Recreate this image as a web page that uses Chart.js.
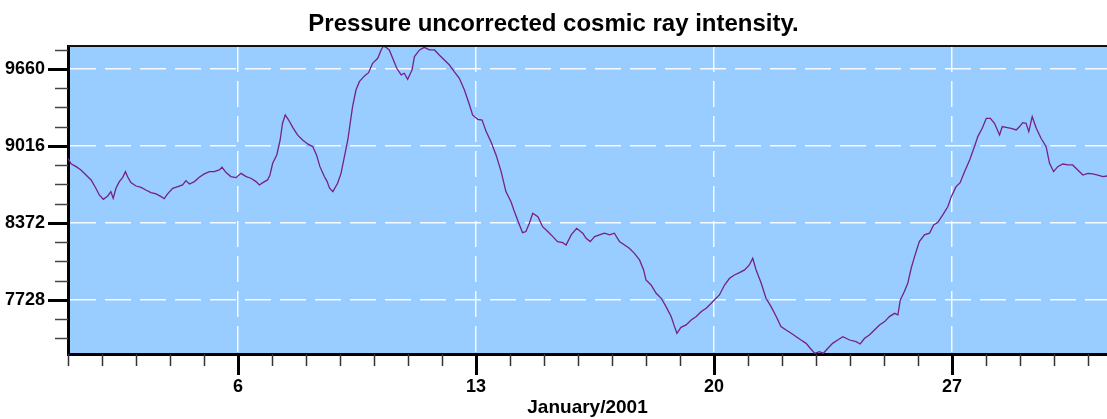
<!DOCTYPE html>
<html>
<head>
<meta charset="utf-8">
<script src="https://cdn.jsdelivr.net/npm/chart.js@4.4.1/dist/chart.umd.min.js"></script>
<style>
  body { margin: 0; background: #fff; }
  #wrap { width: 1107px; height: 419px; }
</style>
</head>
<body>
<div id="wrap"><canvas id="cosmicChart" width="1107" height="419"></canvas></div>
<script>
// day of January 2001 (fractional) and counts
const days = [
    1.00, 1.09, 1.24, 1.38, 1.53, 1.68, 1.82, 1.92, 2.04, 2.17, 2.26, 2.33, 2.41, 2.51, 2.61, 2.69, 2.75, 2.85,
    3.00, 3.15, 3.29, 3.44, 3.59, 3.74, 3.83, 3.93, 4.08, 4.23, 4.37, 4.47, 4.57, 4.72, 4.86, 5.01, 5.16, 5.30,
    5.45, 5.53, 5.65, 5.79, 5.94, 6.09, 6.24, 6.38, 6.53, 6.63, 6.73, 6.87, 6.94, 7.02, 7.14, 7.24, 7.31, 7.39,
    7.49, 7.61, 7.75, 7.90, 8.05, 8.20, 8.31, 8.41, 8.54, 8.62, 8.69, 8.79, 8.93, 9.03, 9.13, 9.23, 9.30, 9.37,
    9.47, 9.57, 9.72, 9.84, 9.96, 10.11, 10.21, 10.28, 10.35, 10.45, 10.55, 10.67, 10.80, 10.89, 10.99, 11.12,
    11.19, 11.34, 11.48, 11.63, 11.78, 11.92, 12.07, 12.22, 12.36, 12.51, 12.66, 12.81, 12.90, 13.05, 13.18,
    13.30, 13.44, 13.59, 13.74, 13.88, 14.03, 14.13, 14.26, 14.37, 14.47, 14.57, 14.67, 14.82, 14.96, 15.11,
    15.26, 15.40, 15.55, 15.65, 15.80, 15.96, 16.14, 16.24, 16.36, 16.49, 16.63, 16.78, 16.93, 17.07, 17.22,
    17.37, 17.51, 17.66, 17.81, 17.93, 18.00, 18.15, 18.30, 18.45, 18.59, 18.74, 18.84, 18.91, 19.03, 19.18,
    19.33, 19.48, 19.62, 19.77, 19.92, 20.01, 20.16, 20.31, 20.46, 20.60, 20.75, 20.90, 21.04, 21.14, 21.24,
    21.39, 21.53, 21.68, 21.83, 21.97, 22.12, 22.27, 22.42, 22.56, 22.71, 22.83, 22.96, 23.10, 23.22, 23.35,
    23.49, 23.64, 23.79, 23.99, 24.18, 24.30, 24.43, 24.57, 24.72, 24.87, 25.02, 25.16, 25.31, 25.41, 25.48,
    25.60, 25.70, 25.80, 25.90, 26.04, 26.19, 26.34, 26.46, 26.58, 26.73, 26.88, 26.98, 27.12, 27.24, 27.37,
    27.52, 27.66, 27.76, 27.89, 28.01, 28.13, 28.25, 28.40, 28.48, 28.59, 28.74, 28.89, 28.99, 29.08, 29.18,
    29.26, 29.36, 29.48, 29.62, 29.77, 29.87, 29.99, 30.11, 30.26, 30.41, 30.55, 30.70, 30.85, 31.00, 31.14,
    31.29, 31.44, 31.56
];
const intensity = [
    8913, 8866, 8843, 8815, 8773, 8732, 8662, 8606, 8570, 8598, 8634, 8578, 8662, 8718, 8754, 8801, 8760, 8709,
    8681, 8670, 8648, 8626, 8615, 8592, 8575, 8615, 8662, 8676, 8690, 8726, 8698, 8718, 8754, 8782, 8801, 8801,
    8815, 8838, 8793, 8760, 8751, 8787, 8760, 8746, 8718, 8690, 8709, 8732, 8773, 8871, 8941, 9066, 9206, 9275,
    9233, 9172, 9108, 9066, 9033, 9010, 8941, 8843, 8760, 8720, 8665, 8634, 8704, 8787, 8927, 9066, 9206, 9345,
    9484, 9554, 9602, 9629, 9707, 9749, 9819, 9852, 9841, 9819, 9749, 9666, 9610, 9624, 9574, 9652,
    9763, 9819, 9841, 9819, 9819, 9777, 9735, 9693, 9638, 9582, 9484, 9359, 9275, 9239, 9233,
    9136, 9052, 8941, 8801, 8634, 8550, 8467, 8369, 8291, 8300, 8369, 8453, 8425, 8341, 8300,
    8258, 8216, 8207, 8188, 8272, 8327, 8286, 8244, 8216, 8258, 8272, 8286, 8272, 8286, 8216,
    8188, 8160, 8118, 8063, 7979, 7895, 7853, 7784, 7742, 7672, 7589, 7505, 7449, 7499, 7519,
    7561, 7589, 7630, 7658, 7700, 7728, 7770, 7853, 7909, 7937, 7957, 7979, 8021, 8076, 7979,
    7867, 7742, 7672, 7589, 7505, 7477, 7449, 7421, 7393, 7365, 7324, 7282, 7296, 7282, 7324,
    7365, 7393, 7421, 7393, 7379, 7360, 7407, 7435, 7477, 7519, 7547, 7589, 7616, 7603, 7728,
    7798, 7867, 7993, 8090, 8216, 8272, 8286, 8355, 8375, 8439, 8509, 8592, 8676, 8709, 8801,
    8899, 9010, 9094, 9164, 9247, 9247, 9206, 9108, 9178, 9172, 9164, 9150, 9178, 9211, 9206,
    9136, 9261, 9164, 9080, 9010, 8871, 8801, 8843, 8865, 8857, 8857, 8815, 8773, 8787, 8782,
    8773, 8759, 8765
];

// axis labels and tick positions
const yLabelTicks = [7728, 8372, 9016, 9660];
const yMinorStep = 161;
const xLabelTicks = [6, 13, 20, 27];
const yMin = 7276, yMax = 9852;
const xMin = 1, xMax = 31.56;

const narrowFont = "'Liberation Sans Narrow', 'Arial Narrow', 'Liberation Sans', sans-serif";
const sansFont = "'Liberation Sans', Arial, sans-serif";

// light blue plot background, top frame line and the outward tick marks
const framePlugin = {
    id: 'framePlugin',
    beforeDraw(chart) {
        const { ctx, chartArea: a } = chart;
        ctx.save();
        ctx.fillStyle = '#99ccff';
        ctx.fillRect(a.left, a.top, a.right - a.left, a.bottom - a.top);
        ctx.restore();
    },
    afterDraw(chart) {
        const { ctx, chartArea: a, scales } = chart;
        const x = scales.x, y = scales.y;
        ctx.save();
        ctx.strokeStyle = '#111';
        ctx.lineWidth = 2;
        ctx.beginPath();
        ctx.moveTo(a.left, a.top);
        ctx.lineTo(a.right, a.top);
        ctx.stroke();

        // y ticks
        for (let v = yLabelTicks[0] - 2 * yMinorStep; v <= yMax; v += yMinorStep) {
            const major = yLabelTicks.includes(v);
            const py = Math.round(y.getPixelForValue(v)) + 0.5;
            ctx.lineWidth = major ? 3 : 1.5;
            ctx.strokeStyle = major ? '#000' : '#444';
            ctx.beginPath();
            ctx.moveTo(a.left - (major ? 20 : 13), py);
            ctx.lineTo(a.left, py);
            ctx.stroke();
        }
        // x ticks, one per day
        for (let d = 1; d <= Math.floor(xMax); d++) {
            const major = xLabelTicks.includes(d);
            const px = Math.round(x.getPixelForValue(d)) + 0.5;
            ctx.lineWidth = major ? 3 : 1.5;
            ctx.strokeStyle = major ? '#000' : '#333';
            ctx.beginPath();
            ctx.moveTo(px, a.bottom);
            ctx.lineTo(px, a.bottom + (major ? 21 : 12));
            ctx.stroke();
        }
        ctx.restore();
    }
};

new Chart(document.getElementById('cosmicChart'), {
    type: 'line',
    data: {
        datasets: [{
            data: days.map((d, i) => ({ x: d, y: intensity[i] })),
            borderColor: '#75208a',
            borderWidth: 1.3,
            pointRadius: 0,
            tension: 0,
            fill: false
        }]
    },
    options: {
        responsive: false,
        animation: false,
        layout: { padding: 0 },
        plugins: {
            legend: { display: false },
            tooltip: { enabled: false },
            title: {
                display: true,
                text: 'Pressure uncorrected cosmic ray intensity.',
                color: '#000',
                font: { family: sansFont, size: 24, weight: 'bold' },
                padding: { top: 9.5, bottom: 7.7 }
            }
        },
        scales: {
            x: {
                type: 'linear',
                min: xMin,
                max: xMax,
                afterBuildTicks: (scale) => { scale.ticks = xLabelTicks.map(v => ({ value: v })); },
                afterFit: (scale) => { scale.height = 65; },
                ticks: {
                    color: '#000',
                    padding: 22,
                    maxRotation: 0,
                    callback: (v) => String(v),
                    font: { family: narrowFont, size: 18, weight: 'bold' }
                },
                grid: { color: 'rgba(255,255,255,0.9)', lineWidth: 1.5, drawTicks: false },
                border: { display: true, color: '#000', width: 3, dash: [26, 9] },
                title: {
                    display: true,
                    text: 'January/2001',
                    color: '#000',
                    font: { family: sansFont, size: 19, weight: 'bold' },
                    padding: { top: 0, bottom: 0 }
                }
            },
            y: {
                min: yMin,
                max: yMax,
                afterBuildTicks: (scale) => { scale.ticks = yLabelTicks.map(v => ({ value: v })); },
                afterFit: (scale) => { scale.width = 68; },
                ticks: {
                    color: '#000',
                    padding: 23,
                    callback: (v) => String(v),
                    font: { family: narrowFont, size: 18, weight: 'bold' }
                },
                grid: { color: 'rgba(255,255,255,0.9)', lineWidth: 1.5, drawTicks: false },
                border: { display: true, color: '#000', width: 3, dash: [26, 9] }
            }
        }
    },
    plugins: [framePlugin]
});
</script>
</body>
</html>
